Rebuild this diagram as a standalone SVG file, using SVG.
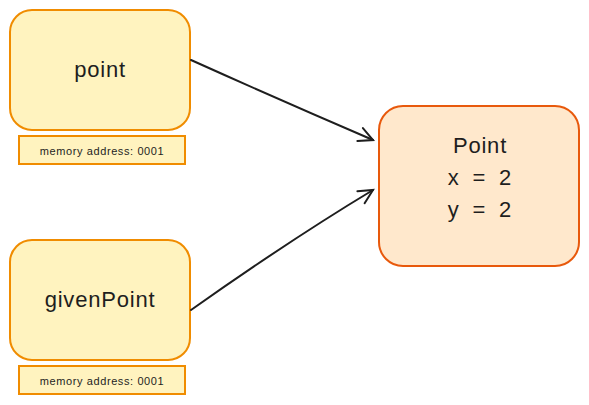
<svg xmlns="http://www.w3.org/2000/svg" width="589" height="405" viewBox="0 0 589 405">
<defs>
<style>
.var{fill:#fff3bf;stroke:#f08c00;stroke-width:2}
.addr{fill:#fff3bf;stroke:#f08c00;stroke-width:2}
.obj{fill:#ffe8cc;stroke:#e8590c;stroke-width:2}
.t{font-family:"Liberation Sans",sans-serif;fill:#1e1e1e;text-anchor:middle}
.big{font-size:22px;letter-spacing:0.8px}
.small{font-size:11px;letter-spacing:0.6px}
.eq{word-spacing:6px}
.conn{fill:none;stroke:#1e1e1e;stroke-width:2;stroke-linecap:round}
</style>
<marker id="arr" markerWidth="20" markerHeight="20" refX="16" refY="10" orient="auto" markerUnits="userSpaceOnUse">
<path d="M2,3 L16,10 L2,17" fill="none" stroke="#1e1e1e" stroke-width="2" stroke-linecap="round"/>
</marker>
</defs>
<rect width="589" height="405" fill="#ffffff"/>
<g id="point">
<rect class="var" x="10" y="10" width="180" height="120" rx="22"/>
<text class="t big" x="100" y="77">point</text>
</g>
<g id="point-address">
<rect class="addr" x="19" y="136" width="166" height="28"/>
<text class="t small" x="102" y="155">memory address: 0001</text>
</g>
<g id="givenPoint">
<rect class="var" x="10" y="240" width="180" height="120" rx="22"/>
<text class="t big" x="100" y="307">givenPoint</text>
</g>
<g id="givenPoint-address">
<rect class="addr" x="19" y="366" width="166" height="28"/>
<text class="t small" x="102" y="385">memory address: 0001</text>
</g>
<g id="Point">
<rect class="obj" x="379" y="106" width="200" height="160" rx="24"/>
<text class="t big" x="480" y="153">Point</text>
<text class="t big eq" x="480" y="185">x = 2</text>
<text class="t big eq" x="480" y="217">y = 2</text>
</g>
<g id="connectors">
<path class="conn" d="M191,60 Q280,100 373,140" marker-end="url(#arr)"/>
<path class="conn" d="M191,310 Q290,240 373,190" marker-end="url(#arr)"/>
</g>
</svg>
